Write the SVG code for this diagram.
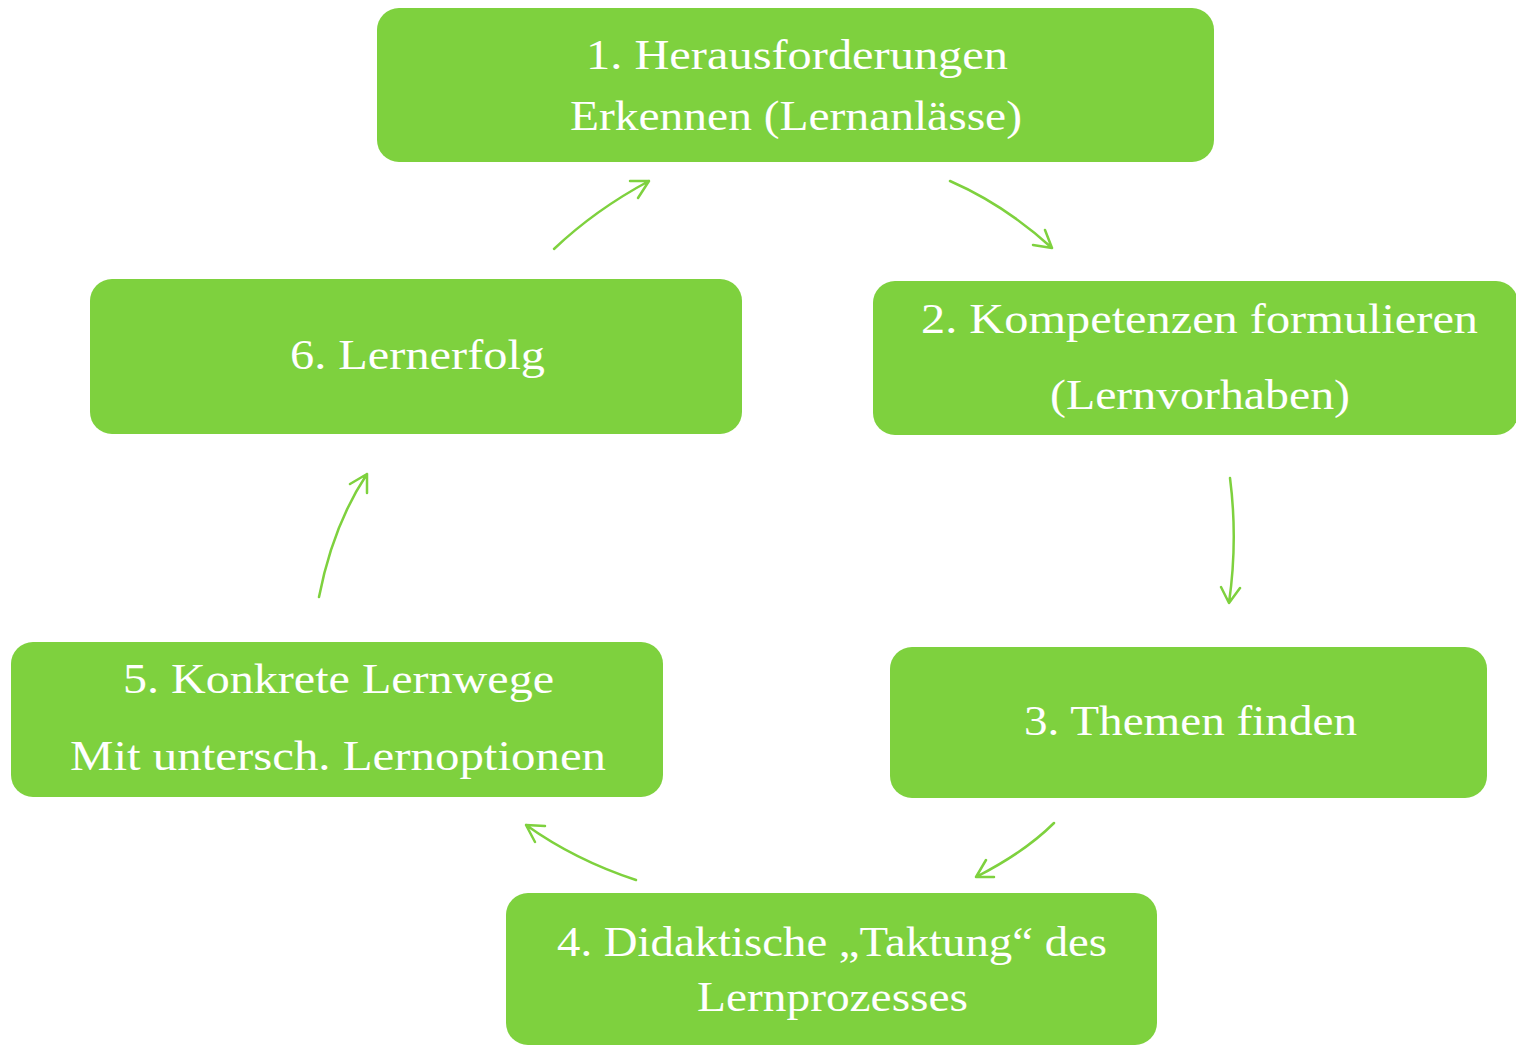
<svg xmlns="http://www.w3.org/2000/svg" width="1516" height="1045" viewBox="0 0 1516 1045">
<style>
.box{fill:#7ED13E}
.t{fill:#ffffff;font-family:"Liberation Serif","DejaVu Serif",serif;font-size:42px;text-anchor:middle}
.c{fill:none;stroke:#7ED13E;stroke-width:2.5;stroke-linecap:round;stroke-linejoin:round}
</style>
<rect width="1516" height="1045" fill="#ffffff"/>
<g id="node1">
<rect class="box" x="377" y="8" width="837" height="154" rx="22"/>
<text class="t" x="797" y="69" textLength="422" lengthAdjust="spacingAndGlyphs">1. Herausforderungen</text>
<text class="t" x="796" y="130" textLength="452" lengthAdjust="spacingAndGlyphs">Erkennen (Lernanlässe)</text>
</g>
<g id="node2">
<rect class="box" x="873" y="281" width="645" height="154" rx="22"/>
<text class="t" x="1199.5" y="333" textLength="557" lengthAdjust="spacingAndGlyphs">2. Kompetenzen formulieren</text>
<text class="t" x="1200" y="409" textLength="300" lengthAdjust="spacingAndGlyphs">(Lernvorhaben)</text>
</g>
<g id="node3">
<rect class="box" x="890" y="647" width="597" height="151" rx="22"/>
<text class="t" x="1190.5" y="735" textLength="333" lengthAdjust="spacingAndGlyphs">3. Themen finden</text>
</g>
<g id="node4">
<rect class="box" x="506" y="893" width="651" height="152" rx="22"/>
<text class="t" x="832" y="956" textLength="550" lengthAdjust="spacingAndGlyphs">4. Didaktische „Taktung“ des</text>
<text class="t" x="832.5" y="1011" textLength="271" lengthAdjust="spacingAndGlyphs">Lernprozesses</text>
</g>
<g id="node5">
<rect class="box" x="11" y="642" width="652" height="155" rx="22"/>
<text class="t" x="338.5" y="693" textLength="431" lengthAdjust="spacingAndGlyphs">5. Konkrete Lernwege</text>
<text class="t" x="338" y="770" textLength="536" lengthAdjust="spacingAndGlyphs">Mit untersch. Lernoptionen</text>
</g>
<g id="node6">
<rect class="box" x="90" y="279" width="652" height="155" rx="22"/>
<text class="t" x="417.5" y="369" textLength="255" lengthAdjust="spacingAndGlyphs">6. Lernerfolg</text>
</g>
<g id="connectors">
<path class="c" d="M554,249 Q595,210 649,181 M630,181 L649,181 L638,198"/>
<path class="c" d="M950,181 Q1005,205 1052,248 M1033,245 L1052,248 L1045,230"/>
<path class="c" d="M1230,478 Q1238,540 1229,603 M1221,587 L1229,603 L1240,588"/>
<path class="c" d="M1054,823 Q1025,852 976,877 M994,877 L976,877 L986,860"/>
<path class="c" d="M636,880 Q575,860 526,825 M545,826 L526,825 L535,842"/>
<path class="c" d="M319,597 Q333,525 367,474 M350,484 L367,474 L367,493"/>
</g>
</svg>
